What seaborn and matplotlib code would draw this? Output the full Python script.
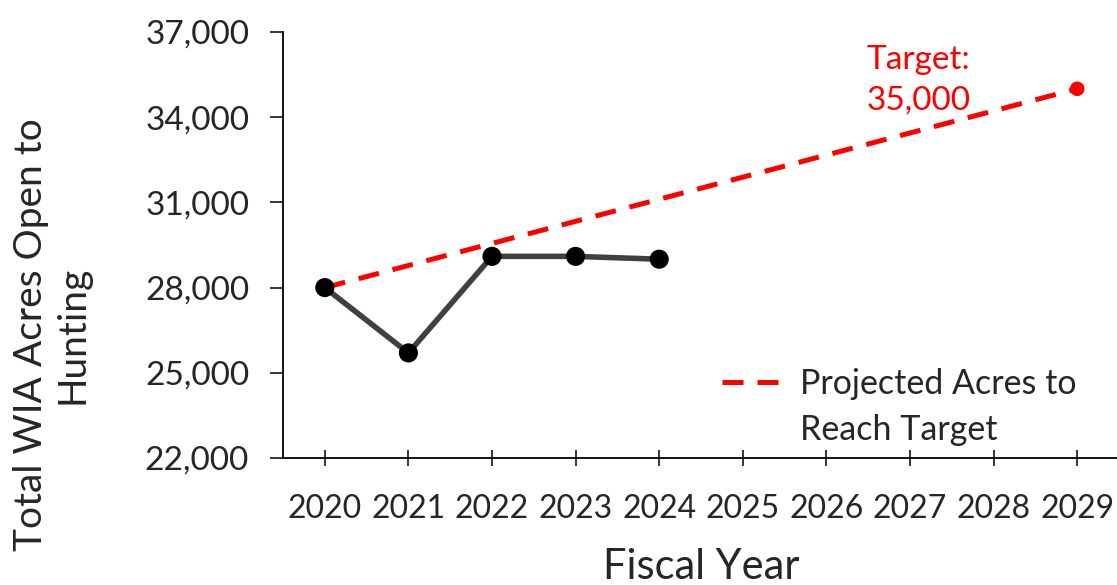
import matplotlib
matplotlib.use("Agg")
import matplotlib.pyplot as plt
import seaborn as sns
import pandas as pd

# ---- data ----
years = [2020, 2021, 2022, 2023, 2024, 2025, 2026, 2027, 2028, 2029]
actual_years = [2020, 2021, 2022, 2023, 2024]
actual_acres = [28000, 25700, 29100, 29100, 29000]
proj_years = [2020, 2029]
proj_acres = [28000, 35000]
target_year = [2029]
target_acres = [35000]
y_ticks = [22000, 25000, 28000, 31000, 34000, 37000]

sns.set_theme(style="white")
plt.rcParams['font.family'] = ['Lato', 'DejaVu Sans']

W, H = 1117, 585
fig = plt.figure(figsize=(W / 100, H / 100), dpi=100)
ax = fig.add_axes([283 / W, 1 - 458 / H, (1119 - 283) / W, (458 - 32) / H])

df_act = pd.DataFrame({"year": actual_years, "acres": actual_acres})
df_proj = pd.DataFrame({"year": proj_years, "acres": proj_acres})
df_tgt = pd.DataFrame({"year": target_year, "acres": target_acres})

sns.lineplot(data=df_proj, x="year", y="acres", ax=ax, color="#FF0000",
             linewidth=3.6, dashes=False, zorder=2, label="Projected Acres to")
ax.lines[-1].set_dashes((4.2, 2.8))
sns.scatterplot(data=df_tgt, x="year", y="acres", ax=ax, color="#FF0000",
                s=110, edgecolor="none", zorder=3, legend=False)
sns.lineplot(data=df_act, x="year", y="acres", ax=ax, color="#404040",
             linewidth=4.0, zorder=4, legend=False)
sns.scatterplot(data=df_act, x="year", y="acres", ax=ax, color="black",
                s=190, edgecolor="none", zorder=5, legend=False)

ax.set_xlim(2019.5, 2029.5)
ax.set_ylim(22000, 37000)
ax.set_xticks(years)
ax.set_xticklabels([str(y) for y in years])
ax.set_yticks(y_ticks)
ax.set_yticklabels([f"{v:,}" for v in y_ticks])

for s in ["top", "right"]:
    ax.spines[s].set_visible(False)
for s in ["left", "bottom"]:
    ax.spines[s].set_color("black")
    ax.spines[s].set_linewidth(1.3)

ax.tick_params(axis="y", direction="out", length=9.4, width=1.1, color="black",
               pad=15, labelsize=24, left=True)
ax.tick_params(axis="x", direction="inout", length=11.5, width=1.1, color="black",
               pad=20, labelsize=23, bottom=True)

ax.set_xlabel("")
ax.set_ylabel("")
fig.text(701 / W, 1 - 579 / H, "Fiscal Year", ha="center", va="baseline", fontsize=30)
fig.text(52 / W, 1 - 335 / H, "Total WIA Acres Open to\nHunting", ha="center",
         va="center", rotation=90, fontsize=28, multialignment="center", linespacing=1.2)

ax.text(2027.1, 35300, "Target:\n35,000", ha="center", va="center", color="#FF0000",
        fontsize=24, linespacing=1.43)

leg = ax.legend(loc="center left", bbox_to_anchor=(722 / W, 1 - 384 / H),
                bbox_transform=fig.transFigure, frameon=False, fontsize=24.5,
                handlelength=1.8, handletextpad=0.5, borderpad=0, borderaxespad=0)
fig.text(800 / W, 1 - 430 / H, "Reach Target", ha="left", va="center", fontsize=24.5)

fig.savefig("out.png", dpi=100)
